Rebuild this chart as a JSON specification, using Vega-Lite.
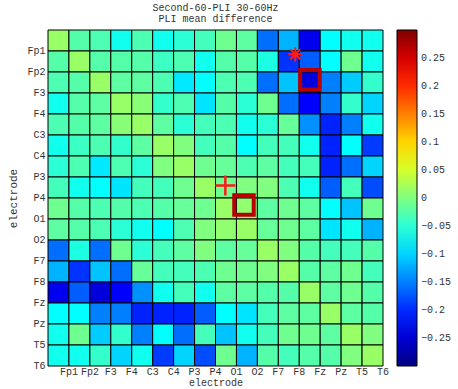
{
  "$schema": "https://vega.github.io/schema/vega-lite/v6.json",
  "autosize": {"type": "none"},
  "padding": {"left": 48, "top": 30, "right": 75, "bottom": 23},
  "width": 335,
  "height": 336,
  "background": "white",
  "title": {
    "text": ["Second-60-PLI 30-60Hz", "PLI mean difference"],
    "font": "Liberation Mono",
    "fontSize": 10,
    "fontWeight": "normal",
    "color": "#333333",
    "anchor": "middle",
    "lineHeight": 11,
    "offset": 6
  },
  "config": {
    "view": {"stroke": null},
    "axis": {
      "labelFont": "Liberation Mono",
      "titleFont": "Liberation Mono",
      "labelFontSize": 10,
      "titleFontSize": 11,
      "titleFontWeight": "normal",
      "labelColor": "#333333",
      "titleColor": "#333333",
      "ticks": false,
      "domain": false,
      "grid": false,
      "labelOverlap": false
    }
  },
  "datasets": {
    "matrix": [
      {"row": "Fp1", "Fp1": 0.015, "Fp2": -0.025, "F3": -0.03, "F4": -0.065, "C3": -0.03, "C4": -0.065, "P3": -0.05, "P4": -0.035, "O1": -0.01, "O2": -0.02, "F7": -0.16, "F8": -0.12, "Fz": -0.235, "Pz": -0.075, "T5": -0.065, "T6": -0.065},
      {"row": "Fp2", "Fp1": -0.025, "Fp2": 0.015, "F3": -0.025, "F4": -0.025, "C3": -0.025, "C4": -0.04, "P3": -0.03, "P4": -0.065, "O1": -0.025, "O2": -0.025, "F7": -0.058, "F8": -0.195, "Fz": -0.17, "Pz": -0.075, "T5": -0.01, "T6": -0.065},
      {"row": "F3", "Fp1": -0.03, "Fp2": -0.025, "F3": 0.015, "F4": -0.02, "C3": -0.02, "C4": -0.03, "P3": -0.088, "P4": -0.075, "O1": -0.03, "O2": -0.03, "F7": -0.16, "F8": -0.11, "Fz": -0.245, "Pz": -0.15, "T5": -0.105, "T6": -0.045},
      {"row": "F4", "Fp1": -0.065, "Fp2": -0.025, "F3": -0.02, "F4": 0.015, "C3": 0.005, "C4": -0.045, "P3": -0.03, "P4": -0.09, "O1": -0.025, "O2": -0.05, "F7": -0.01, "F8": -0.16, "Fz": -0.225, "Pz": -0.15, "T5": -0.045, "T6": -0.1},
      {"row": "C3", "Fp1": -0.03, "Fp2": -0.025, "F3": -0.02, "F4": 0.005, "C3": 0.015, "C4": -0.02, "P3": -0.05, "P4": -0.035, "O1": -0.03, "O2": -0.065, "F7": -0.05, "F8": -0.015, "Fz": -0.14, "Pz": -0.205, "T5": -0.15, "T6": -0.065},
      {"row": "C4", "Fp1": -0.065, "Fp2": -0.04, "F3": -0.03, "F4": -0.045, "C3": -0.02, "C4": 0.015, "P3": 0.0, "P4": -0.035, "O1": -0.025, "O2": -0.075, "F7": -0.035, "F8": -0.035, "Fz": -0.065, "Pz": -0.205, "T5": -0.075, "T6": -0.19},
      {"row": "P3", "Fp1": -0.05, "Fp2": -0.03, "F3": -0.088, "F4": -0.03, "C3": -0.05, "C4": 0.0, "P3": 0.015, "P4": -0.01, "O1": -0.015, "O2": -0.03, "F7": -0.02, "F8": -0.035, "Fz": -0.035, "Pz": -0.205, "T5": -0.16, "T6": -0.1},
      {"row": "P4", "Fp1": -0.035, "Fp2": -0.065, "F3": -0.075, "F4": -0.09, "C3": -0.035, "C4": -0.035, "P3": -0.01, "P4": 0.015, "O1": -0.01, "O2": 0.0, "F7": 0.0, "F8": -0.03, "Fz": -0.065, "Pz": -0.17, "T5": -0.035, "T6": -0.18},
      {"row": "O1", "Fp1": -0.01, "Fp2": -0.025, "F3": -0.03, "F4": -0.025, "C3": -0.03, "C4": -0.025, "P3": -0.015, "P4": -0.01, "O1": 0.015, "O2": 0.01, "F7": -0.02, "F8": -0.01, "Fz": -0.02, "Pz": -0.075, "T5": -0.11, "T6": -0.01},
      {"row": "O2", "Fp1": -0.02, "Fp2": -0.025, "F3": -0.03, "F4": -0.05, "C3": -0.065, "C4": -0.075, "P3": -0.03, "P4": 0.0, "O1": 0.01, "O2": 0.015, "F7": -0.015, "F8": -0.01, "Fz": -0.02, "Pz": -0.09, "T5": -0.065, "T6": -0.12},
      {"row": "F7", "Fp1": -0.16, "Fp2": -0.058, "F3": -0.16, "F4": -0.01, "C3": -0.05, "C4": -0.035, "P3": -0.02, "P4": 0.0, "O1": -0.02, "O2": -0.015, "F7": 0.015, "F8": 0.0, "Fz": -0.025, "Pz": -0.035, "T5": -0.035, "T6": -0.025},
      {"row": "F8", "Fp1": -0.12, "Fp2": -0.195, "F3": -0.11, "F4": -0.16, "C3": -0.015, "C4": -0.035, "P3": -0.035, "P4": -0.03, "O1": -0.01, "O2": -0.01, "F7": 0.0, "F8": 0.015, "Fz": -0.025, "Pz": -0.02, "T5": -0.01, "T6": -0.035},
      {"row": "Fz", "Fp1": -0.235, "Fp2": -0.17, "F3": -0.245, "F4": -0.225, "C3": -0.14, "C4": -0.065, "P3": -0.035, "P4": -0.065, "O1": -0.02, "O2": -0.02, "F7": -0.025, "F8": -0.025, "Fz": 0.015, "Pz": -0.02, "T5": -0.01, "T6": -0.025},
      {"row": "Pz", "Fp1": -0.075, "Fp2": -0.075, "F3": -0.15, "F4": -0.15, "C3": -0.205, "C4": -0.205, "P3": -0.205, "P4": -0.17, "O1": -0.075, "O2": -0.09, "F7": -0.035, "F8": -0.02, "Fz": -0.02, "Pz": 0.015, "T5": -0.02, "T6": -0.025},
      {"row": "T5", "Fp1": -0.065, "Fp2": -0.01, "F3": -0.105, "F4": -0.045, "C3": -0.15, "C4": -0.075, "P3": -0.16, "P4": -0.035, "O1": -0.11, "O2": -0.065, "F7": -0.035, "F8": -0.01, "Fz": -0.01, "Pz": -0.02, "T5": 0.015, "T6": 0.0},
      {"row": "T6", "Fp1": -0.065, "Fp2": -0.065, "F3": -0.045, "F4": -0.1, "C3": -0.065, "C4": -0.19, "P3": -0.1, "P4": -0.18, "O1": -0.01, "O2": -0.12, "F7": -0.025, "F8": -0.035, "Fz": -0.025, "Pz": -0.025, "T5": 0.0, "T6": 0.015}
    ],
    "markers": [
      {"kind": "star", "mx": 11.81, "my": 1.16},
      {"kind": "plus", "mx": 8.47, "my": 7.41},
      {"kind": "square", "mx": 12.51, "my": 2.37},
      {"kind": "square", "mx": 9.36, "my": 8.33}
    ]
  },
  "layer": [
    {
      "data": {"name": "matrix"},
      "transform": [
        {"fold": ["Fp1", "Fp2", "F3", "F4", "C3", "C4", "P3", "P4", "O1", "O2", "F7", "F8", "Fz", "Pz", "T5", "T6"], "as": ["col", "value"]}
      ],
      "mark": {"type": "rect", "stroke": "black", "strokeWidth": 1},
      "encoding": {
        "x": {
          "field": "col", "type": "nominal",
          "sort": ["Fp1", "Fp2", "F3", "F4", "C3", "C4", "P3", "P4", "O1", "O2", "F7", "F8", "Fz", "Pz", "T5", "T6"],
          "scale": {"paddingInner": 0, "paddingOuter": 0},
          "axis": {"title": "electrode", "labelAngle": 0, "labelOffset": 10.5, "labelPadding": 0, "titlePadding": 1, "titleFontSize": 10}
        },
        "y": {
          "field": "row", "type": "nominal",
          "sort": ["Fp1", "Fp2", "F3", "F4", "C3", "C4", "P3", "P4", "O1", "O2", "F7", "F8", "Fz", "Pz", "T5", "T6"],
          "scale": {"paddingInner": 0, "paddingOuter": 0},
          "axis": {"title": "electrode", "labelOffset": 10.5, "labelPadding": 3, "titlePadding": 8}
        },
        "color": {
          "field": "value", "type": "quantitative",
          "scale": {
            "domain": [-0.3, -0.225, -0.075, 0, 0.075, 0.225, 0.3],
            "range": ["#000080", "#0000ff", "#00ffff", "#80ff80", "#ffff00", "#ff0000", "#800000"],
            "interpolate": "rgb"
          },
          "legend": {
            "title": null,
            "values": [-0.25, -0.2, -0.15, -0.1, -0.05, 0, 0.05, 0.1, 0.15, 0.2, 0.25],
            "format": ".2~f",
            "gradientLength": 336,
            "gradientThickness": 20,
            "gradientStrokeColor": "black",
            "gradientStrokeWidth": 1,
            "offset": 14,
            "padding": 0,
            "labelFont": "Liberation Mono",
            "labelFontSize": 10,
            "labelColor": "#333333",
            "labelOffset": 4
          }
        }
      }
    },
    {
      "data": {"name": "markers"},
      "transform": [{"filter": "datum.kind === 'square'"}],
      "mark": {"type": "point", "shape": "square", "filled": false, "color": "#b80000", "strokeWidth": 4, "size": 380, "opacity": 1},
      "encoding": {
        "x": {"field": "mx", "type": "quantitative", "scale": {"domain": [0, 16], "nice": false, "zero": false}, "axis": null},
        "y": {"field": "my", "type": "quantitative", "scale": {"domain": [0, 16], "nice": false, "zero": false, "reverse": true}, "axis": null}
      }
    },
    {
      "data": {"name": "markers"},
      "transform": [{"filter": "datum.kind === 'plus'"}],
      "mark": {"type": "point", "shape": "M-1,0H1M0,-1V1", "filled": false, "color": "#ff1a1a", "strokeWidth": 2.5, "size": 400, "opacity": 1},
      "encoding": {
        "x": {"field": "mx", "type": "quantitative", "scale": {"domain": [0, 16], "nice": false, "zero": false}, "axis": null},
        "y": {"field": "my", "type": "quantitative", "scale": {"domain": [0, 16], "nice": false, "zero": false, "reverse": true}, "axis": null}
      }
    },
    {
      "data": {"name": "markers"},
      "transform": [{"filter": "datum.kind === 'star'"}],
      "mark": {"type": "point", "shape": "M-1,0H1M0,-1V1M-0.7,-0.7L0.7,0.7M-0.7,0.7L0.7,-0.7", "filled": false, "color": "#ff1a1a", "strokeWidth": 2, "size": 200, "opacity": 1},
      "encoding": {
        "x": {"field": "mx", "type": "quantitative", "scale": {"domain": [0, 16], "nice": false, "zero": false}, "axis": null},
        "y": {"field": "my", "type": "quantitative", "scale": {"domain": [0, 16], "nice": false, "zero": false, "reverse": true}, "axis": null}
      }
    }
  ],
  "resolve": {"scale": {"x": "independent", "y": "independent"}}
}
